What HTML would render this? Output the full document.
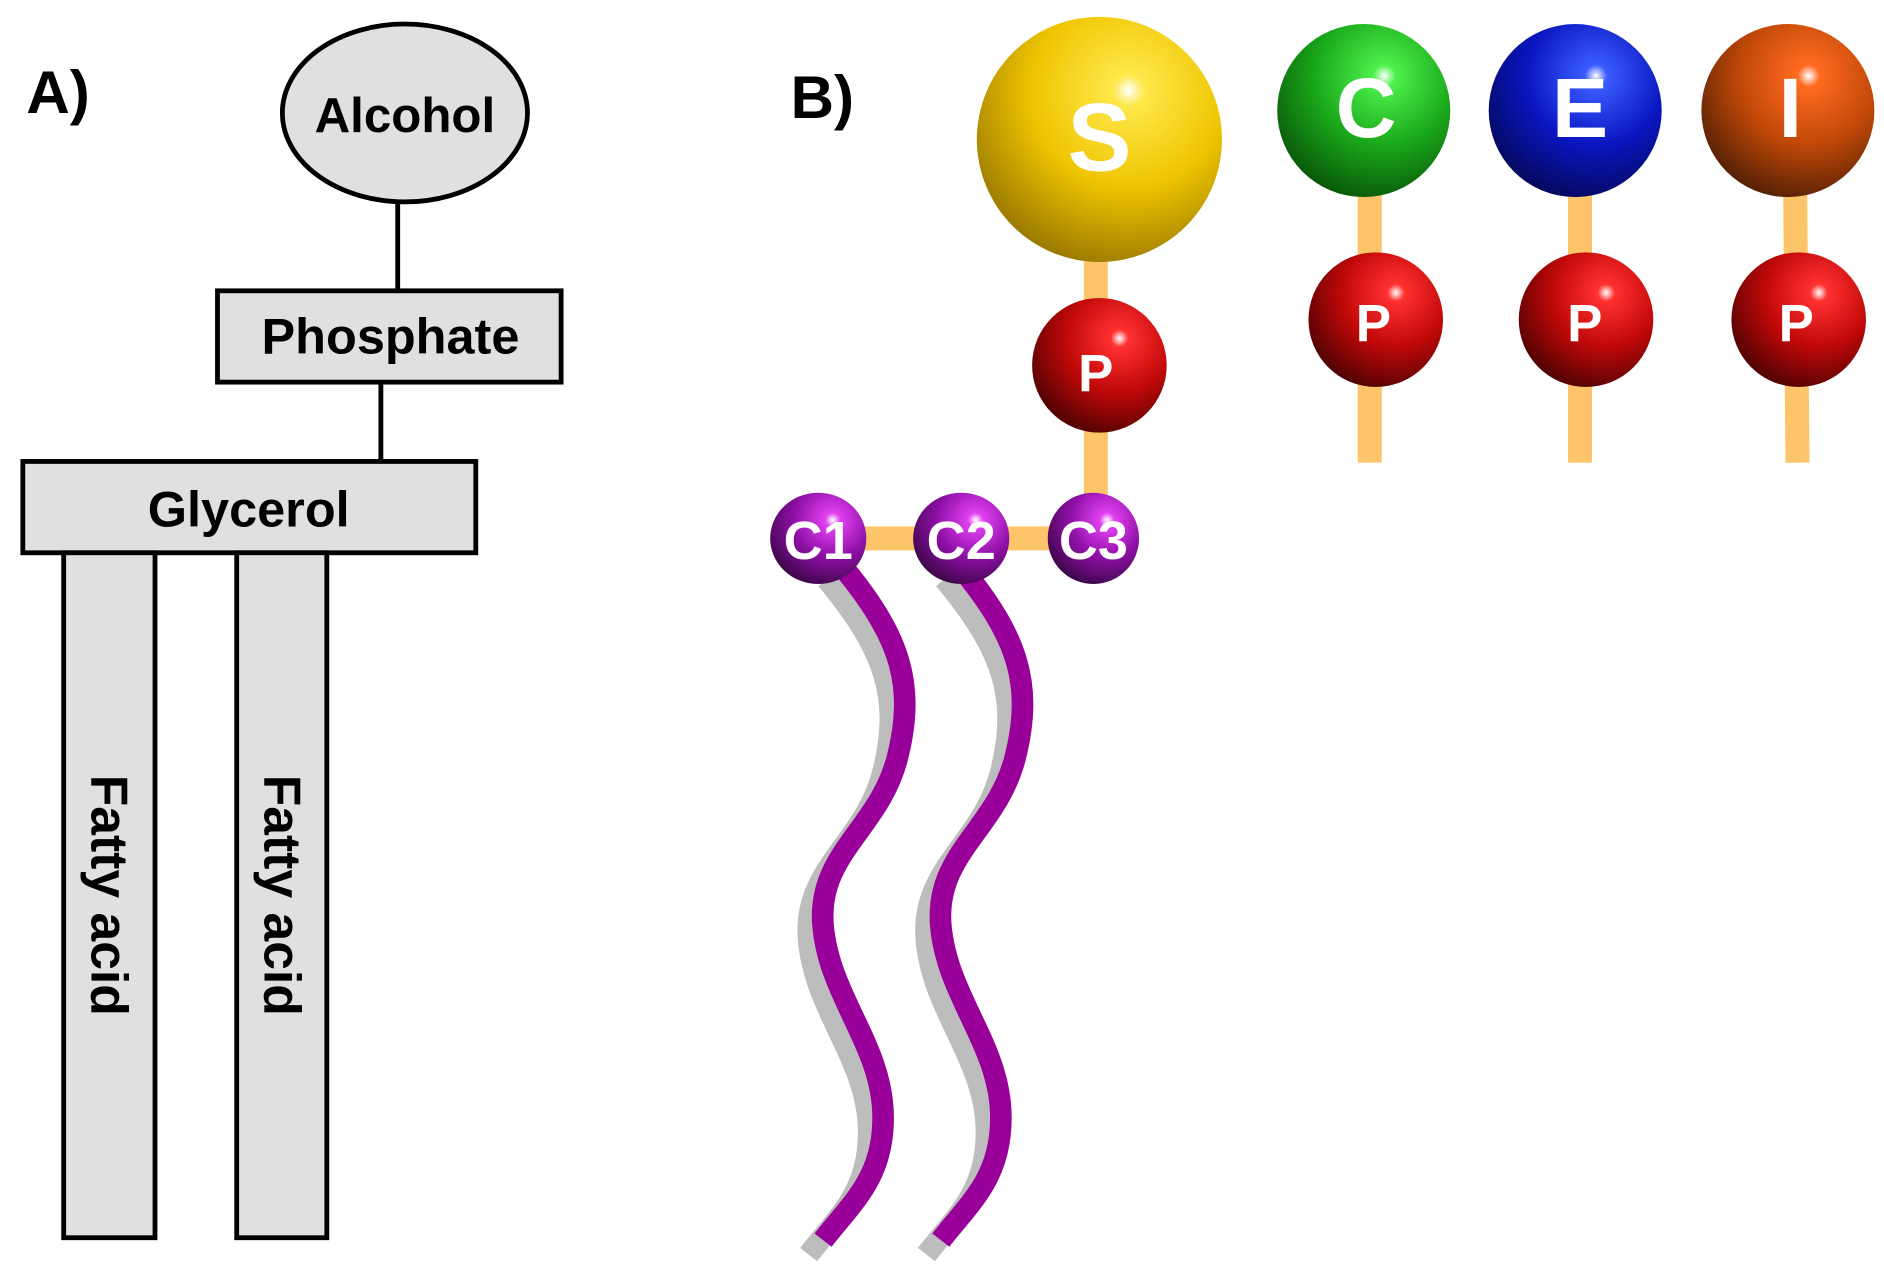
<!DOCTYPE html>
<html><head><meta charset="utf-8"><style>html,body{margin:0;padding:0;background:#fff}svg{display:block}</style></head>
<body>
<svg width="1884" height="1281" viewBox="0 0 1568 1066" preserveAspectRatio="none" xmlns="http://www.w3.org/2000/svg" font-family="Liberation Sans, Arial, sans-serif" font-weight="bold">
<defs>
<radialGradient id="gS" cx="0.62" cy="0.3" r="0.8"><stop offset="0" stop-color="#fff"/><stop offset="0.08" stop-color="#ffe84a"/><stop offset="0.5" stop-color="#eec400"/><stop offset="1" stop-color="#8a6a00"/></radialGradient>
<radialGradient id="gC" cx="0.62" cy="0.3" r="0.8"><stop offset="0" stop-color="#fff"/><stop offset="0.08" stop-color="#4cf04c"/><stop offset="0.5" stop-color="#1aa81a"/><stop offset="1" stop-color="#064806"/></radialGradient>
<radialGradient id="gE" cx="0.62" cy="0.3" r="0.8"><stop offset="0" stop-color="#fff"/><stop offset="0.08" stop-color="#3a5cff"/><stop offset="0.5" stop-color="#0a16c0"/><stop offset="1" stop-color="#02064a"/></radialGradient>
<radialGradient id="gI" cx="0.62" cy="0.3" r="0.8"><stop offset="0" stop-color="#fff"/><stop offset="0.08" stop-color="#ff6a20"/><stop offset="0.5" stop-color="#c04808"/><stop offset="1" stop-color="#401804"/></radialGradient>
<radialGradient id="gP" cx="0.65" cy="0.3" r="0.8"><stop offset="0" stop-color="#fff"/><stop offset="0.08" stop-color="#ff3030"/><stop offset="0.5" stop-color="#c00808"/><stop offset="1" stop-color="#400202"/></radialGradient>
<radialGradient id="gV" cx="0.65" cy="0.3" r="0.8"><stop offset="0" stop-color="#fff"/><stop offset="0.1" stop-color="#e040f0"/><stop offset="0.5" stop-color="#9010a8"/><stop offset="1" stop-color="#30043a"/></radialGradient>
</defs>
<!-- A -->
<text x="22" y="94" font-size="50">A)</text>
<line x1="331" y1="166" x2="331" y2="242" stroke="#000" stroke-width="4"/>
<line x1="317" y1="318" x2="317" y2="384" stroke="#000" stroke-width="4"/>
<ellipse cx="337" cy="94" rx="102" ry="74" fill="#e0e0e0" stroke="#000" stroke-width="4"/>
<text x="337" y="110" font-size="41" text-anchor="middle">Alcohol</text>
<rect x="181" y="242" width="286" height="76" fill="#e0e0e0" stroke="#000" stroke-width="4"/>
<text x="325" y="294" font-size="42" text-anchor="middle">Phosphate</text>
<rect x="19" y="384" width="377" height="76" fill="#e0e0e0" stroke="#000" stroke-width="4"/>
<text x="207" y="438" font-size="42" text-anchor="middle">Glycerol</text>
<rect x="53" y="460" width="76" height="570" fill="#e0e0e0" stroke="#000" stroke-width="4"/>
<rect x="197" y="460" width="75" height="570" fill="#e0e0e0" stroke="#000" stroke-width="4"/>
<text transform="translate(76,745) rotate(90)" font-size="43" text-anchor="middle">Fatty acid</text>
<text transform="translate(220,745) rotate(90)" font-size="43" text-anchor="middle">Fatty acid</text>
<!-- B -->
<text x="658" y="98" font-size="50">B)</text>
<g stroke="#fdc56a" stroke-width="20" fill="none">
<line x1="912" y1="210" x2="912" y2="260"/><line x1="912" y1="350" x2="912" y2="420"/>
<line x1="681" y1="448" x2="910" y2="448"/>
<line x1="1140" y1="150" x2="1140" y2="385"/>
<line x1="1315" y1="150" x2="1315" y2="385"/>
<line x1="1494" y1="150" x2="1496" y2="385"/>
</g>
<g fill="none" stroke-width="18">
<path d="M700,470 C750,530 762,570 747,630 C732,690 680,710 685,770 C690,830 735,870 735,930 C735,980 710,1000 685,1032" stroke="#bdbdbd" transform="translate(-12,12)"/>
<path d="M700,470 C750,530 762,570 747,630 C732,690 680,710 685,770 C690,830 735,870 735,930 C735,980 710,1000 685,1032" stroke="#990099"/>
<path d="M798,470 C848,530 860,570 845,630 C830,690 778,710 783,770 C788,830 833,870 833,930 C833,980 808,1000 783,1032" stroke="#bdbdbd" transform="translate(-12,12)"/>
<path d="M798,470 C848,530 860,570 845,630 C830,690 778,710 783,770 C788,830 833,870 833,930 C833,980 808,1000 783,1032" stroke="#990099"/>
</g>
<circle cx="915" cy="116" r="102" fill="url(#gS)"/>
<circle cx="1135" cy="92" r="72" fill="url(#gC)"/>
<circle cx="1311" cy="92" r="72" fill="url(#gE)"/>
<circle cx="1488" cy="92" r="72" fill="url(#gI)"/>
<circle cx="915" cy="304" r="56" fill="url(#gP)"/>
<circle cx="1145" cy="266" r="56" fill="url(#gP)"/>
<circle cx="1320" cy="266" r="56" fill="url(#gP)"/>
<circle cx="1497" cy="266" r="56" fill="url(#gP)"/>
<ellipse cx="681" cy="448" rx="40" ry="38" fill="url(#gV)"/>
<ellipse cx="800" cy="448" rx="40" ry="38" fill="url(#gV)"/>
<ellipse cx="910" cy="448" rx="38" ry="38" fill="url(#gV)"/>
<g fill="#fff" text-anchor="middle">
<text x="915" y="142" font-size="80">S</text>
<text x="1137" y="114" font-size="70">C</text>
<text x="1315" y="114" font-size="70">E</text>
<text x="1490" y="114" font-size="70">I</text>
<text x="912" y="326" font-size="44">P</text>
<text x="1143" y="284" font-size="44">P</text>
<text x="1319" y="284" font-size="44">P</text>
<text x="1495" y="284" font-size="44">P</text>
<text x="681" y="465" font-size="45">C1</text>
<text x="800" y="465" font-size="45">C2</text>
<text x="910" y="465" font-size="45">C3</text>
</g>
</svg>
</body></html>
